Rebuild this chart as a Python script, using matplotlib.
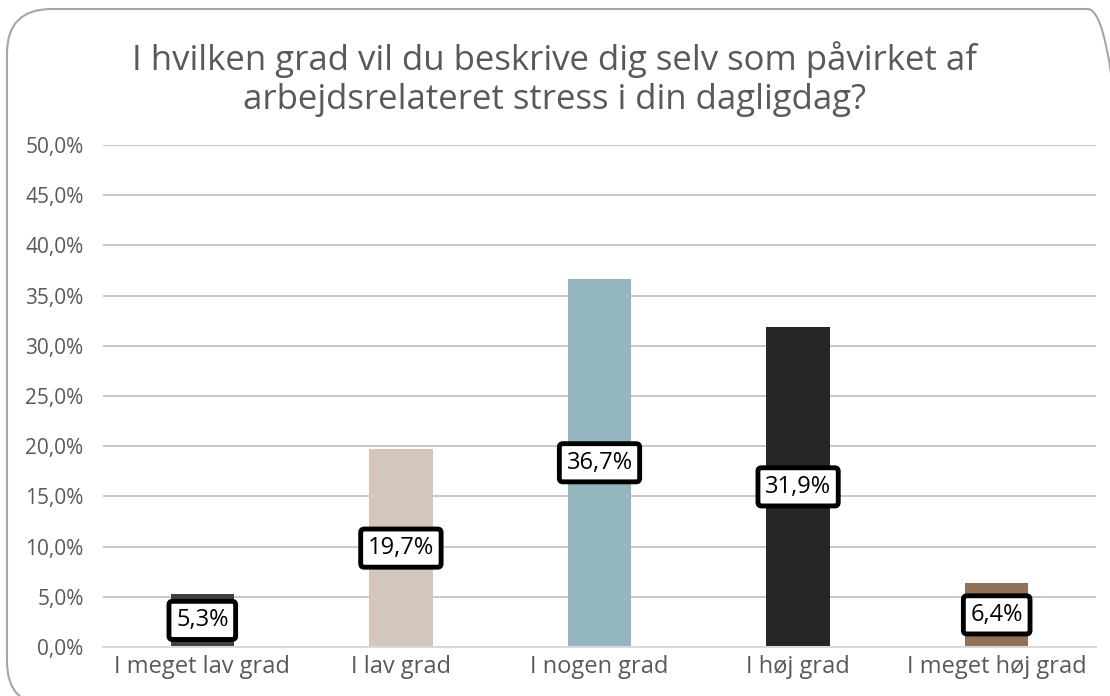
import matplotlib.pyplot as plt
from matplotlib.patches import FancyBboxPatch

# survey answers, share of respondents in percent
categories = ["I meget lav grad", "I lav grad", "I nogen grad", "I høj grad", "I meget høj grad"]
values = [5.3, 19.7, 36.7, 31.9, 6.4]
colors = ["#404040", "#D5C6BB", "#94B6BF", "#262626", "#937159"]
yticks = [0, 5, 10, 15, 20, 25, 30, 35, 40, 45, 50]
title = "I hvilken grad vil du beskrive dig selv som påvirket af\narbejdsrelateret stress i din dagligdag?"

plt.rcParams['font.family'] = ['Open Sans', 'DejaVu Sans']

W, H = 1110, 696
fig = plt.figure(figsize=(W / 100, H / 100), dpi=100)

# rounded frame round the whole chart
frame = FancyBboxPatch((7 / W, -10 / H), 1125 / W, (H - 9 + 10) / H,
                       boxstyle="round,pad=0,rounding_size=0.04",
                       transform=fig.transFigure, facecolor="none",
                       edgecolor="#A6A6A6", linewidth=1.5, clip_on=False,
                       mutation_aspect=W / H, zorder=-1)
fig.patches.append(frame)

ax = fig.add_axes([103 / W, 1 - 647 / H, (1096 - 103) / W, (647 - 145) / H])
ax.set_facecolor("none")

x = range(len(categories))
ax.bar(x, values, width=0.32, color=colors, zorder=2)

for xi, v in zip(x, values):
    ax.text(xi, v / 2, f"{v:.1f}%".replace(".", ","), ha="center", va="center",
            fontsize=17, color="black", zorder=3,
            bbox=dict(boxstyle="round,pad=0.3,rounding_size=0.15",
                      facecolor="white", edgecolor="black", linewidth=3.5))

ax.set_xlim(-0.5, 4.5)
ax.set_ylim(0, 50)
ax.set_yticks(yticks)
ax.set_yticklabels([f"{t:.1f}%".replace(".", ",") for t in yticks])
ax.set_xticks(list(x))
ax.set_xticklabels(categories)
ax.tick_params(axis="both", length=0, colors="#595959")
ax.tick_params(axis="y", pad=14, labelsize=15)
ax.tick_params(axis="x", pad=6, labelsize=17)
ax.yaxis.grid(True, color="#BFBFBF", linewidth=1.2, zorder=0)
ax.set_axisbelow(True)
for side in ["top", "right", "left"]:
    ax.spines[side].set_visible(False)
ax.spines["bottom"].set_color("#D9D9D9")
ax.spines["bottom"].set_linewidth(1.5)

fig.text(0.5, 1 - 79 / H, title, ha="center", va="center", fontsize=25,
         color="#595959", linespacing=1.2)

fig.savefig("out.png", dpi=100)
